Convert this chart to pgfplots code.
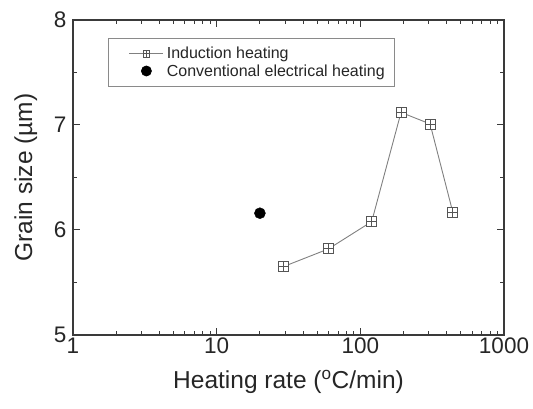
\documentclass[border=0pt]{standalone}
\usepackage{pgfplots}
\pgfplotsset{compat=1.18}
\usepackage{fontspec}
\setmainfont{Liberation Sans}
\definecolor{axisink}{HTML}{3A3A3A}
\definecolor{lineink}{HTML}{808080}
\definecolor{markink}{HTML}{555555}
\definecolor{legframe}{HTML}{8A8A8A}
\pgfdeclareplotmark{sqplus}{%
  \pgfpathrectangle{\pgfpoint{-\pgfplotmarksize}{-\pgfplotmarksize}}{\pgfpoint{2\pgfplotmarksize}{2\pgfplotmarksize}}%
  \pgfusepathqfillstroke
  \pgfpathmoveto{\pgfpoint{-\pgfplotmarksize}{0pt}}\pgfpathlineto{\pgfpoint{\pgfplotmarksize}{0pt}}%
  \pgfpathmoveto{\pgfpoint{0pt}{-\pgfplotmarksize}}\pgfpathlineto{\pgfpoint{0pt}{\pgfplotmarksize}}%
  \pgfusepathqstroke
}
\begin{document}
\begin{tikzpicture}
\begin{axis}[
  name=main, scale only axis, width=431pt, height=315pt,
  xmode=log, xmin=1, xmax=1000, ymin=5, ymax=8,
  xtick={1,10,100,1000}, xticklabels={1,10,100,1000},
  ytick={5,6,7,8}, minor y tick num=1,
  tick align=inside, major tick length=7pt, minor tick length=4pt,
  axis line style={draw=axisink, line width=1.4pt},
  every tick/.style={draw=axisink, line width=1pt},
  /pgf/number format/assume math mode=true,
  tick label style={font=\fontsize{22.5}{26}\selectfont, text=black!85},
  xticklabel style={yshift=1pt},
  yticklabel style={xshift=-3pt},
  label style={font=\fontsize{24.5}{28}\selectfont, text=black!85},
  xlabel={Heating rate (\textsuperscript{o}C/min)},
  ylabel={Grain size (\textmu m)},
  xlabel style={yshift=-10pt},
  ylabel style={yshift=10pt},
  legend style={at={(0.0812,0.943)}, anchor=north west, draw=legframe, line width=0.8pt,
    font=\fontsize{16}{19}\selectfont, text=black!85, inner xsep=9pt, inner ysep=8pt,
    nodes={inner sep=1pt}, row sep=2pt,
    /tikz/every odd column/.append style={column sep=2pt}},
  legend cell align=left,
]
\addplot[color=lineink, line width=0.9pt, mark=sqplus, mark size=5pt,
  mark options={draw=markink, fill=white, line width=0.8pt},
  legend image code/.code={
    \path[draw=none, fill=none] (0pt,-1pt) rectangle (46pt,1pt);
    \draw[lineink, line width=0.8pt] (12pt,0pt) -- (46pt,0pt);
    \draw[markink, fill=white, line width=0.6pt] plot[mark=sqplus, mark size=3.2pt] coordinates {(29pt,0pt)};
  }]
  coordinates {(29,5.65) (60,5.82) (120,6.08) (192,7.12) (306,7.01) (440,6.17)};
\addplot[only marks, mark=*, mark size=5.5pt, color=black,
  legend image code/.code={
    \path[draw=none, fill=none] (0pt,-1pt) rectangle (46pt,1pt);
    \fill[black] (29pt,0pt) circle (5pt);
  }]
  coordinates {(20,6.16)};
\legend{Induction heating, Conventional electrical heating}
\end{axis}
\path ([xshift=-73pt,yshift=-73pt]main.south west) rectangle ([xshift=29pt,yshift=20pt]main.north east);
\end{tikzpicture}
\end{document}
